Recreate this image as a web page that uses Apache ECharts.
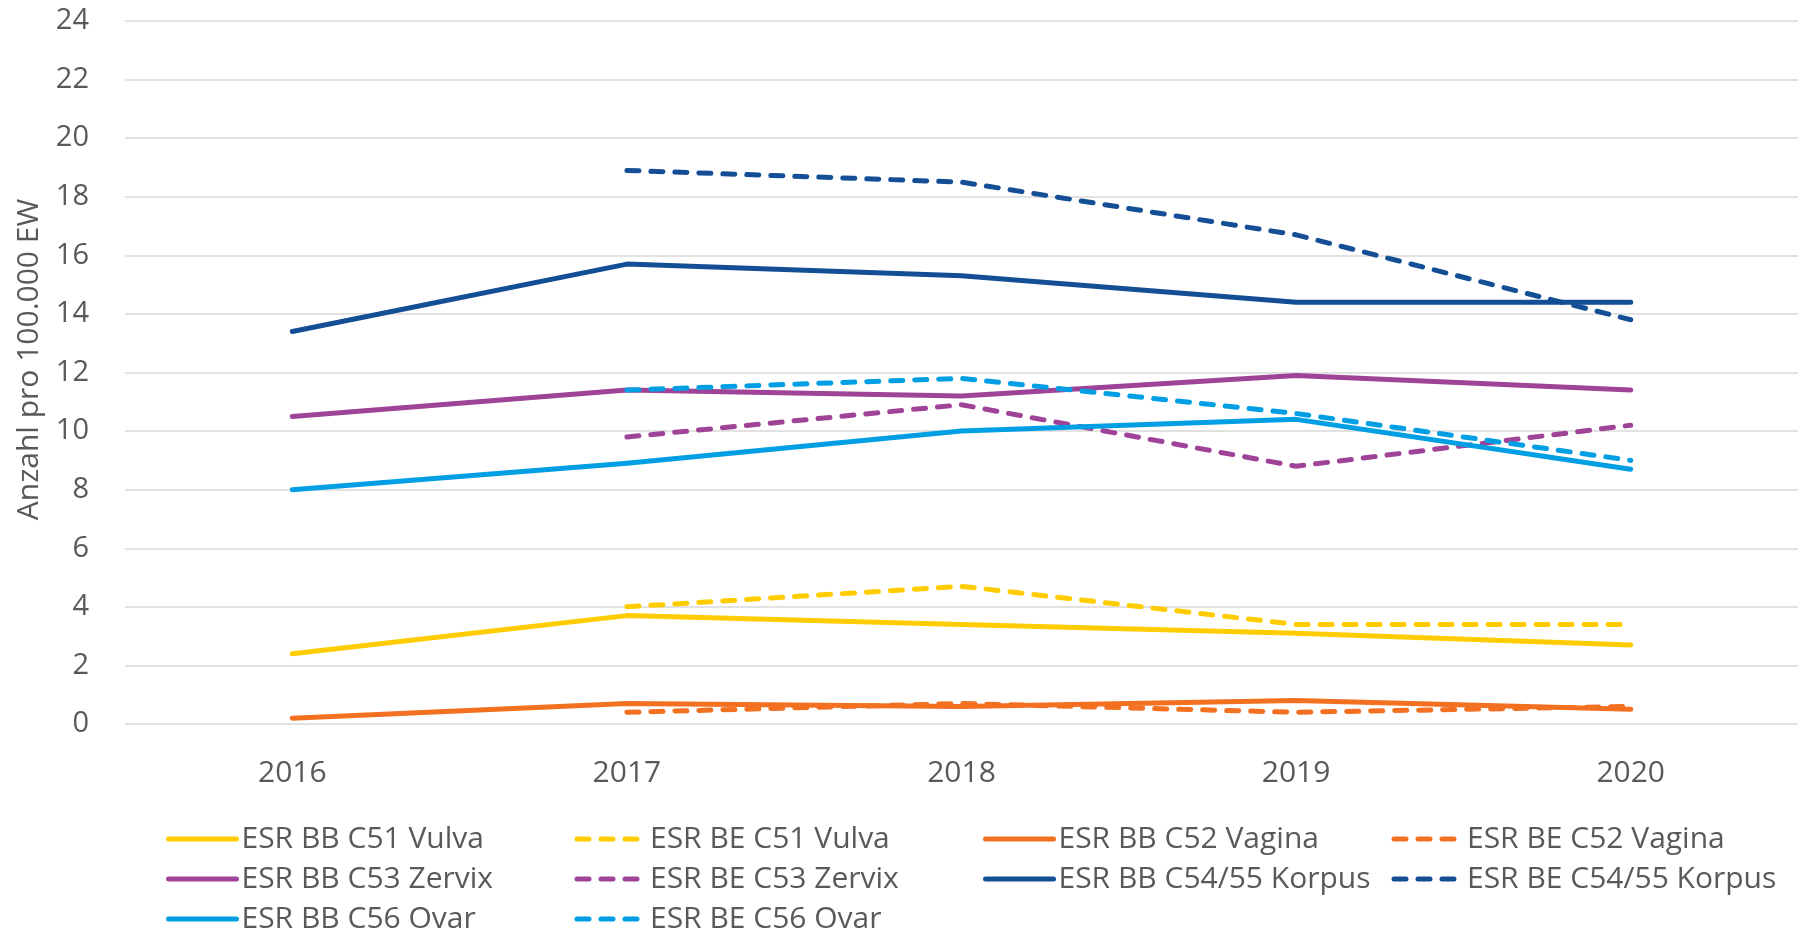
<!DOCTYPE html>
<html>
<head>
<meta charset="utf-8">
<script src="https://cdn.jsdelivr.net/npm/echarts@6/dist/echarts.min.js"></script>
<style>
html,body{margin:0;padding:0;background:#fff;}
#chart{width:1798px;height:933px;}
</style>
</head>
<body>
<div id="chart"></div>
<script>
const years = ['2016', '2017', '2018', '2019', '2020'];
const yTicks = [0, 24, 2];
const yAxisName = 'Anzahl pro 100.000 EW';

const bbC51 = [2.4, 3.7, 3.4, 3.1, 2.7];
const beC51 = [null, 4.0, 4.7, 3.4, 3.4];
const bbC52 = [0.2, 0.7, 0.6, 0.8, 0.5];
const beC52 = [null, 0.4, 0.7, 0.4, 0.6];
const bbC53 = [10.5, 11.4, 11.2, 11.9, 11.4];
const beC53 = [null, 9.8, 10.9, 8.8, 10.2];
const bbC54 = [13.4, 15.7, 15.3, 14.4, 14.4];
const beC54 = [null, 18.9, 18.5, 16.7, 13.8];
const bbC56 = [8.0, 8.9, 10.0, 10.4, 8.7];
const beC56 = [null, 11.4, 11.8, 10.6, 9.0];

const seriesDefs = [
  ['ESR BB C51 Vulva', bbC51, '#FFCC00', false],
  ['ESR BE C51 Vulva', beC51, '#FFCC00', true],
  ['ESR BB C52 Vagina', bbC52, '#F37021', false],
  ['ESR BE C52 Vagina', beC52, '#F37021', true],
  ['ESR BB C53 Zervix', bbC53, '#9F4399', false],
  ['ESR BE C53 Zervix', beC53, '#9F4399', true],
  ['ESR BB C54/55 Korpus', bbC54, '#144E94', false],
  ['ESR BE C54/55 Korpus', beC54, '#144E94', true],
  ['ESR BB C56 Ovar', bbC56, '#009FE3', false],
  ['ESR BE C56 Ovar', beC56, '#009FE3', true]
];

const font = '"Open Sans", "Noto Sans", sans-serif';
const textColor = '#595959';

const chart = echarts.init(document.getElementById('chart'));
chart.setOption({
  animation: false,
  backgroundColor: '#ffffff',
  grid: { left: 125, right: 0, top: 21, bottom: 209, containLabel: false },
  xAxis: {
    type: 'category',
    data: years,
    boundaryGap: true,
    axisLine: { show: false },
    axisTick: { show: false },
    axisLabel: { color: textColor, fontFamily: font, fontSize: 30, margin: 34 },
    splitLine: { show: false }
  },
  yAxis: {
    type: 'value',
    min: yTicks[0], max: yTicks[1], interval: yTicks[2],
    name: yAxisName,
    nameLocation: 'middle',
    nameGap: 76,
    nameTextStyle: { color: textColor, fontFamily: font, fontSize: 30, padding: [0, 0, 0, 26] },
    axisLine: { show: false },
    axisTick: { show: false },
    axisLabel: { color: textColor, fontFamily: font, fontSize: 29, margin: 36 },
    splitLine: { lineStyle: { color: '#D9D9D9', width: 1.5 } }
  },
  legend: {
    left: 166,
    top: 819,
    width: 1650,
    padding: 0,
    itemGap: 0,
    itemWidth: 68,
    itemHeight: 14,
    itemStyle: { opacity: 0 },
    lineStyle: { width: 5 },
    textStyle: { color: textColor, fontFamily: font, fontSize: 30, width: 333, lineHeight: 40, overflow: 'truncate' },
    data: seriesDefs.map(d => d[0])
  },
  series: seriesDefs.map(d => ({
    name: d[0],
    type: 'line',
    data: d[1],
    symbol: 'none',
    connectNulls: false,
    color: d[2],
    lineStyle: {
      color: d[2],
      width: 5,
      type: d[3] ? [12, 12] : 'solid',
      cap: 'round',
      join: 'round'
    }
  }))
});
</script>
</body>
</html>
